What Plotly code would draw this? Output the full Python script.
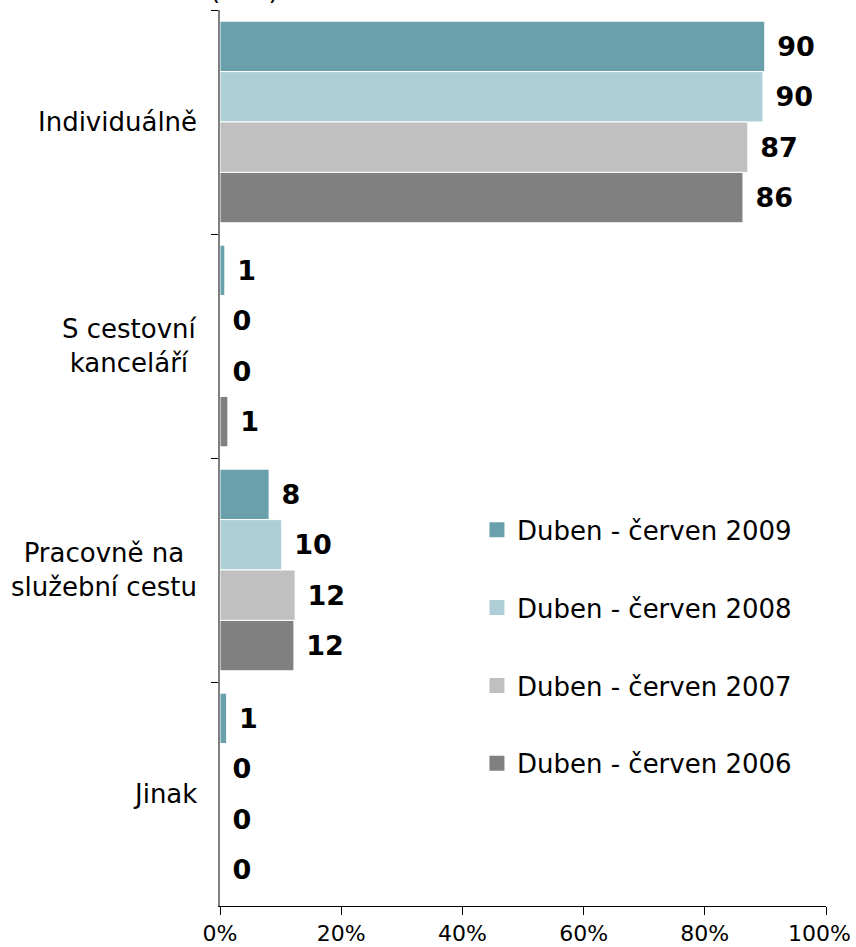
import plotly.graph_objects as go

categories = ["Individuálně", "S cestovní<br>kanceláří", "Pracovně na<br>služební cestu", "Jinak"]
series_names = ["Duben - červen 2009", "Duben - červen 2008", "Duben - červen 2007", "Duben - červen 2006"]
values_2009 = [89.9, 0.8, 8.1, 1.1]
values_2008 = [89.6, 0, 10.2, 0]
values_2007 = [87.1, 0, 12.4, 0]
values_2006 = [86.3, 1.3, 12.2, 0]
x_ticks = [0, 20, 40, 60, 80, 100]
colors = ["#6A9FAC", "#AECFD7", "#C0C0C0", "#808080"]

FONT = "DejaVu Sans"

fig = go.Figure()
for name, vals, col in zip(series_names, [values_2009, values_2008, values_2007, values_2006], colors):
    fig.add_trace(go.Bar(
        y=categories,
        x=vals,
        name=name,
        orientation="h",
        legendgroup=name,
        showlegend=False,
        marker=dict(color=col, line=dict(color="white", width=1)),
        texttemplate=" %{x:.0f}",
        textposition="outside",
        textfont=dict(family=FONT, size=27, color="black", weight="bold"),
        cliponaxis=False,
    ))
    # legend-only entry so the swatch is a bigger square
    fig.add_trace(go.Scatter(
        x=[None], y=[None], mode="markers", name=name, legendgroup=name,
        marker=dict(symbol="square", size=15, color=col),
    ))

# category labels, centred line by line like the original
annotations = [dict(
    text=cat, xref="paper", yref="y", x=0, y=cat, xanchor="right", xshift=-21,
    align="center", showarrow=False, font=dict(size=26, color="black"),
) for cat in categories]

# last x tick label is pulled inside the page
annotations.append(dict(
    text=f"{x_ticks[-1]}%", xref="x", yref="paper", x=x_ticks[-1], y=0,
    xanchor="right", yanchor="top", xshift=27, yshift=-13, showarrow=False,
    font=dict(size=22, color="black"),
))

annotations.append(dict(
    text="(v %)", xref="paper", yref="paper", x=0.04, y=1,
    xanchor="center", yanchor="bottom", yshift=3, showarrow=False,
    font=dict(size=26, color="black"),
))

fig.update_layout(
    barmode="group",
    bargap=0.1,
    bargroupgap=0,
    width=856,
    height=947,
    margin=dict(l=220, r=30, t=10, b=41),
    plot_bgcolor="white",
    paper_bgcolor="white",
    font=dict(family=FONT, color="black"),
    showlegend=True,
    legend=dict(
        x=0.424, y=0.446, xanchor="left", yanchor="top",
        font=dict(size=26, color="black"),
        traceorder="grouped",
        tracegroupgap=41,
        itemsizing="trace",
        bgcolor="rgba(0,0,0,0)",
    ),
    annotations=annotations,
)

fig.update_yaxes(
    autorange="reversed",
    tickson="boundaries",
    ticks="outside",
    ticklen=7,
    tickcolor="black",
    showline=True,
    linecolor="#808080",
    linewidth=2,
    showgrid=False,
    showticklabels=False,
    automargin=False,
)
fig.update_xaxes(
    range=[0, 100],
    tickvals=x_ticks,
    ticktext=[f"{v}%" for v in x_ticks[:-1]] + [""],
    ticks="outside",
    ticklen=8,
    tickcolor="black",
    showline=True,
    linecolor="black",
    linewidth=1,
    showgrid=False,
    zeroline=False,
    tickfont=dict(size=22, color="black"),
    automargin=False,
)

fig.write_html(
    "out.html",
    config={"displayModeBar": False},
    post_script="document.body.style.margin='0';",
)
